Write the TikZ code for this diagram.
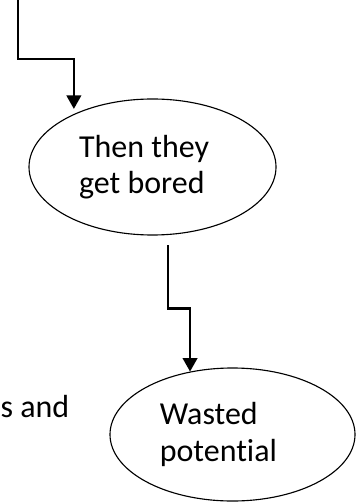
\documentclass[tikz,border=0pt]{standalone}
\usepackage{fontspec}
\setmainfont{Carlito}[Ligatures=NoCommon]
\usetikzlibrary{shapes.geometric, arrows.meta}

\tikzset{
	bubble/.style={ellipse, draw, line width=0.4pt, inner sep=0pt, align=left,
		font=\fontsize{11.35}{12.9}\selectfont},
	flow/.style={line width=0.75pt, -{Triangle[width=5.2pt,length=4.8pt]}}
}

\begin{document}
\begin{tikzpicture}[x=0.355pt, y=-0.355pt]
			\useasboundingbox (0,0) rectangle (357,502);
			\node[bubble, minimum width=247*0.355pt, minimum height=136*0.355pt] (bored) at (152.5,167) {Then they\hspace*{6pt}\\get bored};
			\node[bubble, minimum width=245*0.355pt, minimum height=133*0.355pt] (wasted) at (232.5,434.5) {Wasted\\potential\hspace*{10pt}};
			\node[anchor=base west, inner sep=0pt, font=\fontsize{11.35}{12.9}\selectfont] (cut) at (0,417) {s and};
			\coordinate (start) at (18,0);
			
			\draw[flow, shorten >=1.8pt] (start) -- ++(0,59) -| (bored.146);
			\draw[flow, shorten <=3.6pt] (bored.-77) -- ++(0,73.5) -| (wasted.124);
		\end{tikzpicture}
\end{document}
